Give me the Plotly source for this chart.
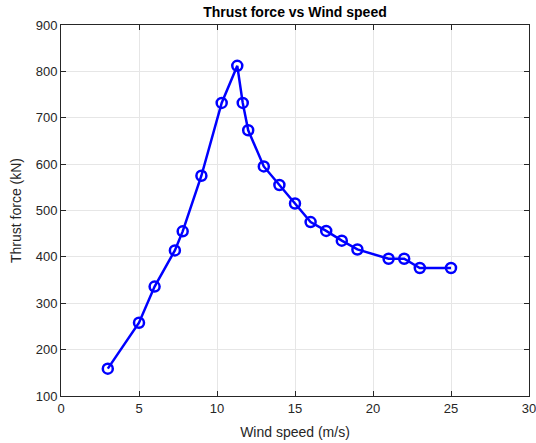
import plotly.graph_objects as go

wind_speed = [3, 5, 6, 7.3, 7.8, 9, 10.3, 11.3, 11.65, 12, 13, 14, 15, 16, 17, 18, 19, 21, 22, 23, 25]
thrust = [159, 258, 336, 414, 455, 575, 732, 812, 732, 673, 595, 555, 515, 475, 456, 435, 416, 396, 396, 376, 376]

x_ticks = [0, 5, 10, 15, 20, 25, 30]
y_ticks = [100, 200, 300, 400, 500, 600, 700, 800, 900]

fig = go.Figure()
fig.add_trace(go.Scatter(
    x=wind_speed, y=thrust, mode="lines+markers",
    line=dict(color="#0000ff", width=2.5),
    marker=dict(symbol="circle-open", size=10, color="#0000ff", line=dict(width=2.5, color="#0000ff")),
    showlegend=False,
))

axis_common = dict(
    showline=True, linecolor="#262626", linewidth=1, mirror="ticks",
    ticks="inside", ticklen=5, tickcolor="#262626",
    showgrid=True, gridcolor="#e6e6e6", gridwidth=1, zeroline=False,
    ticklabeloverflow="allow", automargin=False,
    tickfont=dict(family="Liberation Sans, Arial, sans-serif", size=13, color="#262626"),
)

fig.update_layout(
    width=536, height=443,
    margin=dict(l=61, r=7, t=25, b=47),
    paper_bgcolor="white", plot_bgcolor="white",
    title=dict(text="<b>Thrust force vs Wind speed</b>", x=0.5, xanchor="center", xref="paper",
               y=1 - 12 / 443, yanchor="middle",
               font=dict(family="Liberation Sans, Arial, sans-serif", size=14, color="#000000")),
    xaxis=dict(range=[0, 30], tickvals=x_ticks,
               title=dict(text="Wind speed (m/s)", standoff=12,
                          font=dict(family="Liberation Sans, Arial, sans-serif", size=14, color="#262626")),
               **axis_common),
    yaxis=dict(range=[100, 900], tickvals=y_ticks,
               title=dict(text="Thrust force (kN)", standoff=10,
                          font=dict(family="Liberation Sans, Arial, sans-serif", size=14, color="#262626")),
               **axis_common),
)

fig.write_html("out.html")
